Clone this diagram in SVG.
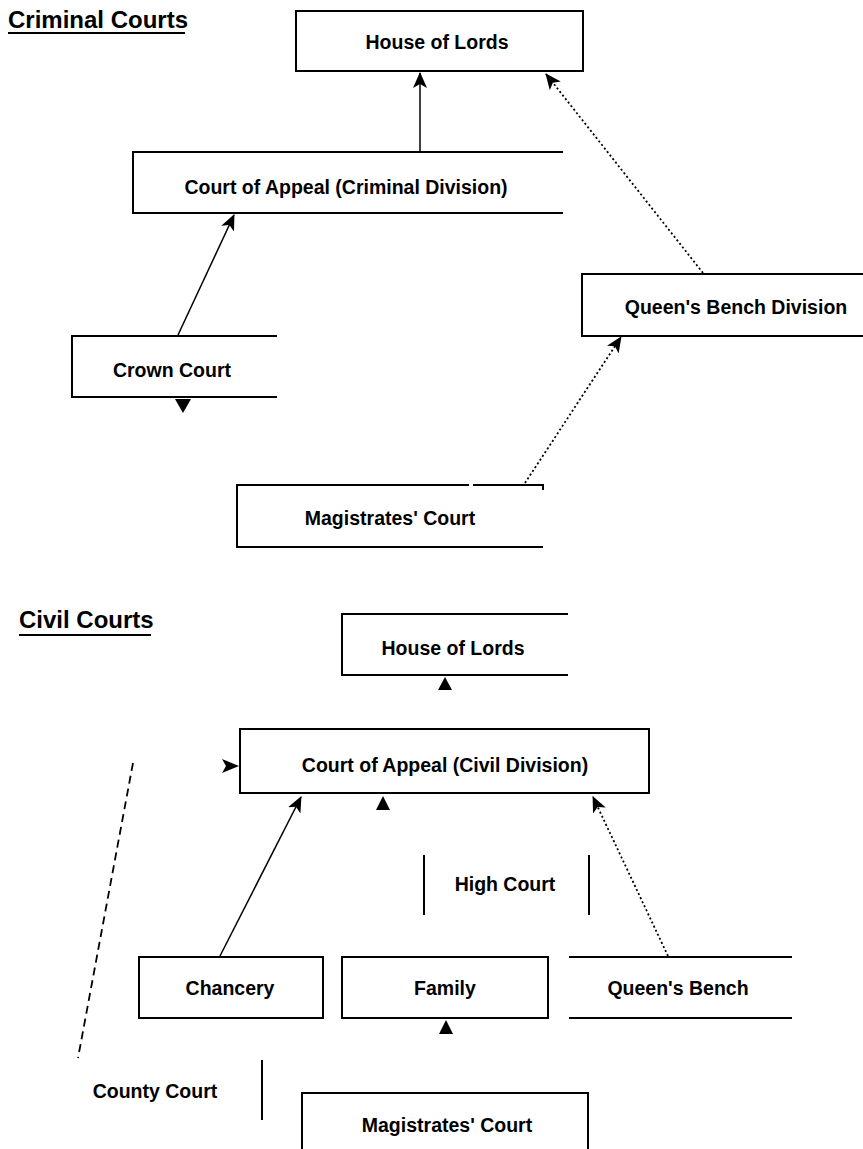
<svg xmlns="http://www.w3.org/2000/svg" width="863" height="1149" viewBox="0 0 863 1149">
<style>
.t{font-family:"Liberation Sans",Arial,sans-serif;font-weight:bold;font-size:19.5px;fill:#000;text-anchor:middle}
.h{font-family:"Liberation Sans",Arial,sans-serif;font-weight:bold;font-size:24px;fill:#000}
.b{fill:none;stroke:#000;stroke-width:2}
.c{fill:none;stroke:#000;stroke-width:1.5}
.d{fill:none;stroke:#000;stroke-width:1.8;stroke-dasharray:2 2.5}
.dash{fill:none;stroke:#000;stroke-width:1.8;stroke-dasharray:8 5}
.a{fill:#000}
</style>
<defs>
<marker id="arr" markerUnits="userSpaceOnUse" markerWidth="16" markerHeight="14" viewBox="0 0 16 14" refX="15" refY="7" orient="auto">
<path d="M0,0 L16,7 L0,14 L4,7 z" fill="#000"/>
</marker>
</defs>
<rect width="863" height="1149" fill="#fff"/>
<g id="title-criminal">
<text class="h" x="8" y="28">Criminal Courts</text>
<line x1="8" y1="33" x2="185" y2="33" stroke="#000" stroke-width="2"/>
</g>
<g id="crim-hol">
<rect class="b" x="296" y="11" width="287" height="60"/>
<text class="t" x="437" y="49">House of Lords</text>
</g>
<g id="crim-coa">
<path class="b" d="M563,152 H133 V213 H563"/>
<text class="t" x="346" y="194">Court of Appeal (Criminal Division)</text>
</g>
<g id="crim-crown">
<path class="b" d="M277,336 H72 V397 H277"/>
<text class="t" x="172" y="377">Crown Court</text>
</g>
<g id="crim-qbd">
<path class="b" d="M863,274 H582 V336 H863"/>
<text class="t" x="736" y="314">Queen's Bench Division</text>
</g>
<g id="crim-mag">
<path class="b" d="M469,485 H237 V547 H543"/>
<path class="b" d="M473,485 H543 V490"/>
<text class="t" x="390" y="525">Magistrates' Court</text>
</g>
<g id="title-civil">
<text class="h" x="19" y="628">Civil Courts</text>
<line x1="19" y1="635" x2="151" y2="635" stroke="#000" stroke-width="2"/>
</g>
<g id="civ-hol">
<path class="b" d="M568,614 H342 V675 H568"/>
<text class="t" x="453" y="655">House of Lords</text>
</g>
<g id="civ-coa">
<rect class="b" x="240" y="729" width="409" height="64"/>
<text class="t" x="445" y="772">Court of Appeal (Civil Division)</text>
</g>
<g id="civ-high">
<line class="b" x1="424" y1="855" x2="424" y2="915"/>
<line class="b" x1="589" y1="855" x2="589" y2="915"/>
<text class="t" x="505" y="891">High Court</text>
</g>
<g id="civ-chancery">
<rect class="b" x="139" y="957" width="184" height="61"/>
<text class="t" x="230" y="995">Chancery</text>
</g>
<g id="civ-family">
<rect class="b" x="342" y="957" width="206" height="61"/>
<text class="t" x="445" y="995">Family</text>
</g>
<g id="civ-qb">
<line class="b" x1="569" y1="957" x2="792" y2="957"/>
<line class="b" x1="569" y1="1018" x2="792" y2="1018"/>
<text class="t" x="678" y="995">Queen's Bench</text>
</g>
<g id="civ-county">
<line class="b" x1="262" y1="1060" x2="262" y2="1120"/>
<text class="t" x="155" y="1098">County Court</text>
</g>
<g id="civ-mag">
<path class="b" d="M302,1149 V1093 H588 V1149"/>
<text class="t" x="447" y="1132">Magistrates' Court</text>
</g>
<g id="connectors">
<line class="c" x1="420" y1="152" x2="420" y2="73" marker-end="url(#arr)"/>
<line class="c" x1="178" y1="335" x2="234" y2="215" marker-end="url(#arr)"/>
<line class="d" x1="703" y1="273" x2="546" y2="74" marker-end="url(#arr)"/>
<line class="d" x1="525" y1="483" x2="621" y2="337" marker-end="url(#arr)"/>
<path class="a" d="M175,399 L191,399 L183,413 z"/>
<path class="a" d="M445,677 L452,690 L438,690 z"/>
<path class="a" d="M222,759 L239,766 L222,773 L226,766 z"/>
<line class="c" x1="220" y1="956" x2="301" y2="797" marker-end="url(#arr)"/>
<path class="a" d="M383,796 L390,810 L376,810 z"/>
<line class="d" x1="668" y1="956" x2="593" y2="797" marker-end="url(#arr)"/>
<path class="a" d="M446,1020 L453,1034 L439,1034 z"/>
<line class="dash" x1="133" y1="763" x2="78" y2="1058"/>
</g>
</svg>
